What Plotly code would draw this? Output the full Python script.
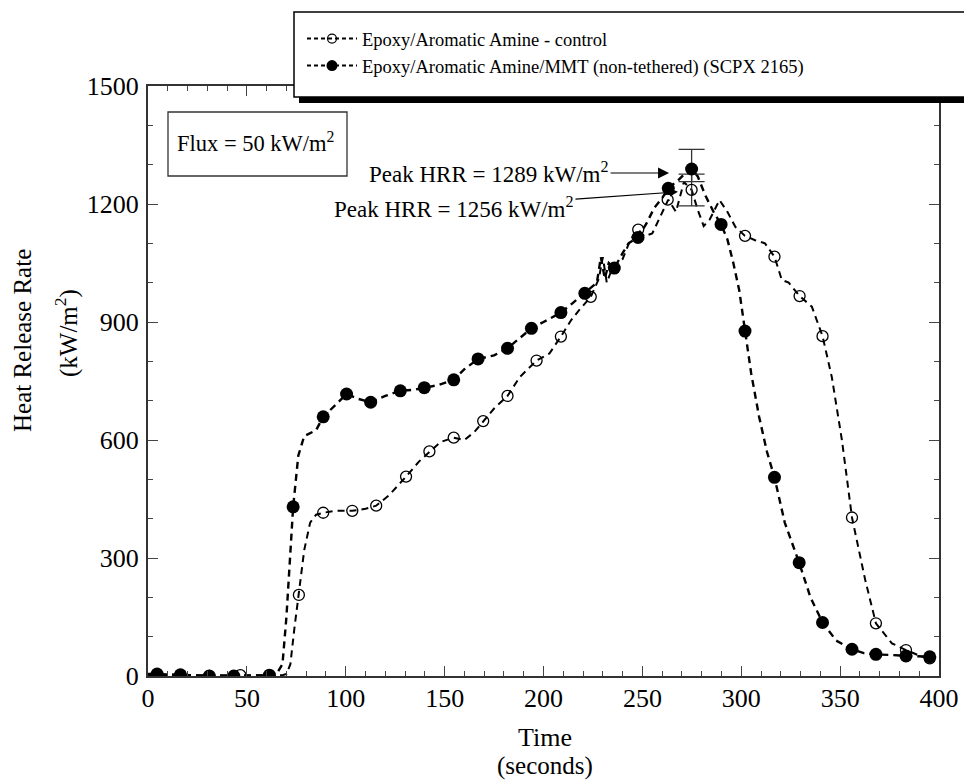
import plotly.graph_objects as go

# ---------------- data ----------------
# Epoxy/Aromatic Amine - control : dashed line
ctrl_line_x = [0, 20, 40, 55, 68, 70, 72, 74, 76.3, 79, 82, 85, 88.6, 95, 103.3, 110, 115.4, 122, 130.5, 137,
               142.6, 148, 154.6, 160, 165, 169.5, 175, 181.8, 188, 196.5, 203, 208.8, 214, 218, 223.9, 228,
               230, 232, 235, 240, 244, 247.9, 251, 255, 260.6, 263.1, 267, 271, 274.9, 278, 281, 284, 289, 293,
               297, 301.9, 307, 312, 316.8, 320.5, 324, 329.5, 335.7, 341.1, 345.8, 350.9, 356, 362.7, 368.1,
               376.2, 383.3, 391.4, 398]
ctrl_line_y = [2, 2, 1, 1, 2, 5, 30, 120, 206, 320, 390, 410, 415, 420, 420, 425, 433, 460, 507, 545,
               571, 595, 606, 600, 620, 648, 680, 712, 760, 802, 820, 863, 905, 930, 964, 1010,
               1065, 1000, 1040, 1060, 1110, 1135, 1118, 1125, 1185, 1211, 1180, 1256, 1236, 1185, 1144, 1160, 1210, 1180,
               1142, 1119, 1108, 1100, 1066, 1007, 1000, 966, 939, 864, 760, 600, 403, 244, 134,
               83, 66, 49, 44]
# control : open markers
ctrl_mark_x = [4.6, 16.4, 31, 46.7, 61.4, 76.3, 88.6, 103.3, 115.4, 130.5, 142.3, 154.6, 169.5, 181.8, 196.5,
               208.8, 223.9, 247.9, 262.8, 274.9, 301.9, 316.8, 329.5, 341.1, 356, 368.1, 383.3, 395.3]
ctrl_mark_y = [3, 2, 0, 2, 0, 206, 415, 420, 433, 507, 571, 606, 648, 712, 802,
               863, 964, 1135, 1211, 1236, 1119, 1066, 966, 864, 403, 134, 66, 45]

# Epoxy/Aromatic Amine/MMT (non-tethered) (SCPX 2165) : dashed line
mmt_line_x = [0, 4.6, 16.4, 31, 43.4, 61.4, 65, 68, 70, 72, 73.4, 76, 79, 85, 88.6, 95, 100.4, 106, 112.6, 120,
              127.6, 135, 139.7, 147, 154.6, 160, 166.9, 175, 181.8, 188, 193.9, 200, 208.8, 214, 220.9, 225,
              227, 229, 231, 233, 235.8, 240, 243, 247.8, 252, 256, 260, 263.1, 268, 272, 274.9, 278, 282, 286,
              289.8, 293, 296, 299, 301.9, 305, 309, 313, 316.8, 322, 329.3, 335, 341.1, 348, 356, 362, 368.1,
              375, 383.3, 390, 395.3, 400]
mmt_line_y = [5, 5, 3, 0, 0, 2, 5, 30, 150, 300, 430, 560, 610, 625, 659, 690, 717, 705, 696, 712,
              725, 728, 733, 740, 753, 780, 806, 815, 833, 860, 884, 900, 924, 945, 973, 990,
              1000, 1065, 1010, 1050, 1037, 1075, 1100, 1115, 1150, 1190, 1215, 1240, 1260, 1280, 1289, 1270, 1220, 1180,
              1148, 1110, 1050, 980, 877, 770, 660, 570, 505, 390, 288, 200, 136, 90, 68, 58, 55,
              53, 51, 50, 49, 45]
# MMT : filled markers
mmt_mark_x = [4.6, 16.4, 31, 43.4, 61.4, 73.4, 88.6, 100.4, 112.6, 127.6, 139.7, 154.6, 166.9, 181.8, 193.9,
              208.8, 220.9, 235.8, 247.8, 263.1, 274.9, 289.8, 301.9, 316.8, 329.3, 341.1, 356, 368.1, 383.3, 395.3]
mmt_mark_y = [5, 3, 0, 0, 2, 430, 659, 717, 696, 725, 733, 753, 806, 833, 884,
              924, 973, 1037, 1115, 1240, 1289, 1148, 877, 505, 288, 136, 68, 55, 51, 49]

# peak values with error bars
peak_x = [274.9, 274.9]
peak_y = [1289, 1236]
peak_err_plus = [50, 40]
peak_err_minus = [32, 41]

x_ticks = [0, 50, 100, 150, 200, 250, 300, 350, 400]
y_ticks = [0, 300, 600, 900, 1200, 1500]

names = ["Epoxy/Aromatic Amine - control",
         "Epoxy/Aromatic Amine/MMT (non-tethered) (SCPX 2165)"]

# ---------------- figure ----------------
FONT = "Liberation Serif, Times New Roman, serif"
DASH = "7px,5px"

fig = go.Figure()

fig.add_trace(go.Scatter(x=ctrl_line_x, y=ctrl_line_y, mode="lines",
                         line=dict(color="black", width=2, dash=DASH), showlegend=False, hoverinfo="skip"))
fig.add_trace(go.Scatter(x=mmt_line_x, y=mmt_line_y, mode="lines",
                         line=dict(color="black", width=2.4, dash=DASH), showlegend=False, hoverinfo="skip"))

fig.add_trace(go.Scatter(x=peak_x, y=peak_y, mode="markers",
                         marker=dict(size=1, color="rgba(0,0,0,0)"),
                         error_y=dict(type="data", array=peak_err_plus, arrayminus=peak_err_minus,
                                      color="#333333", thickness=1.3, width=13, symmetric=False),
                         showlegend=False, hoverinfo="skip"))

fig.add_trace(go.Scatter(x=ctrl_mark_x, y=ctrl_mark_y, mode="markers",
                         marker=dict(symbol="circle-open", size=11, color="black", line=dict(width=1.3)),
                         showlegend=False))
fig.add_trace(go.Scatter(x=mmt_mark_x, y=mmt_mark_y, mode="markers",
                         marker=dict(symbol="circle", size=13, color="black"),
                         showlegend=False))

# legend entries
fig.add_trace(go.Scatter(x=[None], y=[None], mode="lines+markers", name=names[0],
                         line=dict(color="black", width=2, dash="4px,3px"),
                         marker=dict(symbol="circle-open", size=9, color="black", line=dict(width=1.2))))
fig.add_trace(go.Scatter(x=[None], y=[None], mode="lines+markers", name=names[1],
                         line=dict(color="black", width=2, dash="4px,3px"),
                         marker=dict(symbol="circle", size=11, color="black")))

L, R, T, B = 148, 25, 86, 106
W, H = 964, 782
pw, ph = W - L - R, H - T - B


def px2paper(px, py):
    return (px - L) / pw, (H - B - py) / ph


axis_common = dict(showline=True, linecolor="#333333", linewidth=2, mirror="allticks",
                   ticks="inside", ticklen=10, tickwidth=1.3, tickcolor="#444444",
                   showgrid=False, zeroline=False,
                   tickfont=dict(family=FONT, size=26, color="black"))

fig.update_xaxes(range=[0, 400], tickvals=x_ticks, ticklabelstandoff=-2,
                 minor=dict(dtick=10, ticks="inside", ticklen=5, tickwidth=1.2, tickcolor="#444444"),
                 **axis_common)
fig.update_yaxes(range=[0, 1500], tickvals=y_ticks, ticklabelstandoff=2,
                 minor=dict(dtick=100, ticks="inside", ticklen=5, tickwidth=1.2, tickcolor="#444444"),
                 **axis_common)

# legend shadow and frame
sx0, sy0 = px2paper(299, 103)
sx1, sy1 = px2paper(1020, 17)
fig.add_shape(type="rect", xref="paper", yref="paper", x0=sx0, y0=sy0, x1=sx1, y1=sy1,
              fillcolor="black", line=dict(width=0), layer="above")
fx0, fy0 = px2paper(294, 97)
fx1, fy1 = px2paper(1015, 12)
fig.add_shape(type="rect", xref="paper", yref="paper", x0=fx0, y0=fy0, x1=fx1, y1=fy1,
              fillcolor="white", line=dict(color="black", width=1.5), layer="above")

# flux box
bx0, by0 = px2paper(168, 176)
bx1, by1 = px2paper(347, 112)
fig.add_shape(type="rect", xref="paper", yref="paper", x0=bx0, y0=by0, x1=bx1, y1=by1,
              line=dict(color="#333333", width=1.3), fillcolor="white", layer="above")

annos = []


def text_at(px, py, text, size, angle=0):
    ax_, ay_ = px2paper(px, py)
    annos.append(dict(x=ax_, y=ay_, xref="paper", yref="paper", text=text, textangle=angle,
                      xanchor="center", yanchor="middle", showarrow=False,
                      font=dict(family=FONT, size=size, color="black")))


text_at(255, 142, "Flux = 50 kW/m<sup>2</sup>", 22.5)
text_at(22, 341, "Heat Release Rate", 25, -90)
text_at(66, 333, "(kW/m<sup>2</sup>)", 25, -90)
text_at(545, 737, "Time", 26)
text_at(545, 766, "(seconds)", 25)

# peak labels
annos.append(dict(x=263.5, y=1279, xref="x", yref="y", text="Peak HRR = 1289 kW/m<sup>2</sup>",
                  showarrow=True, ax=-180, ay=0, arrowhead=2, arrowsize=2, arrowwidth=1.1,
                  arrowcolor="black", font=dict(family=FONT, size=23, color="black")))
annos.append(dict(x=268, y=1231, xref="x", yref="y", text="Peak HRR = 1256 kW/m<sup>2</sup>",
                  showarrow=True, ax=-224, ay=16, arrowhead=2, arrowsize=1.5, arrowwidth=1.1,
                  arrowcolor="black", font=dict(family=FONT, size=23, color="black")))

lx, ly = px2paper(302, 20)
fig.update_layout(
    width=W, height=H,
    margin=dict(l=L, r=R, t=T, b=B, autoexpand=False),
    paper_bgcolor="white", plot_bgcolor="white",
    font=dict(family=FONT, color="black"),
    annotations=annos,
    legend=dict(x=lx, y=ly, xanchor="left", yanchor="top", xref="paper", yref="paper",
                bgcolor="rgba(0,0,0,0)", borderwidth=0, itemwidth=50,
                font=dict(family=FONT, size=18.5, color="black"), tracegroupgap=0),
)

fig.write_html("out.html")
